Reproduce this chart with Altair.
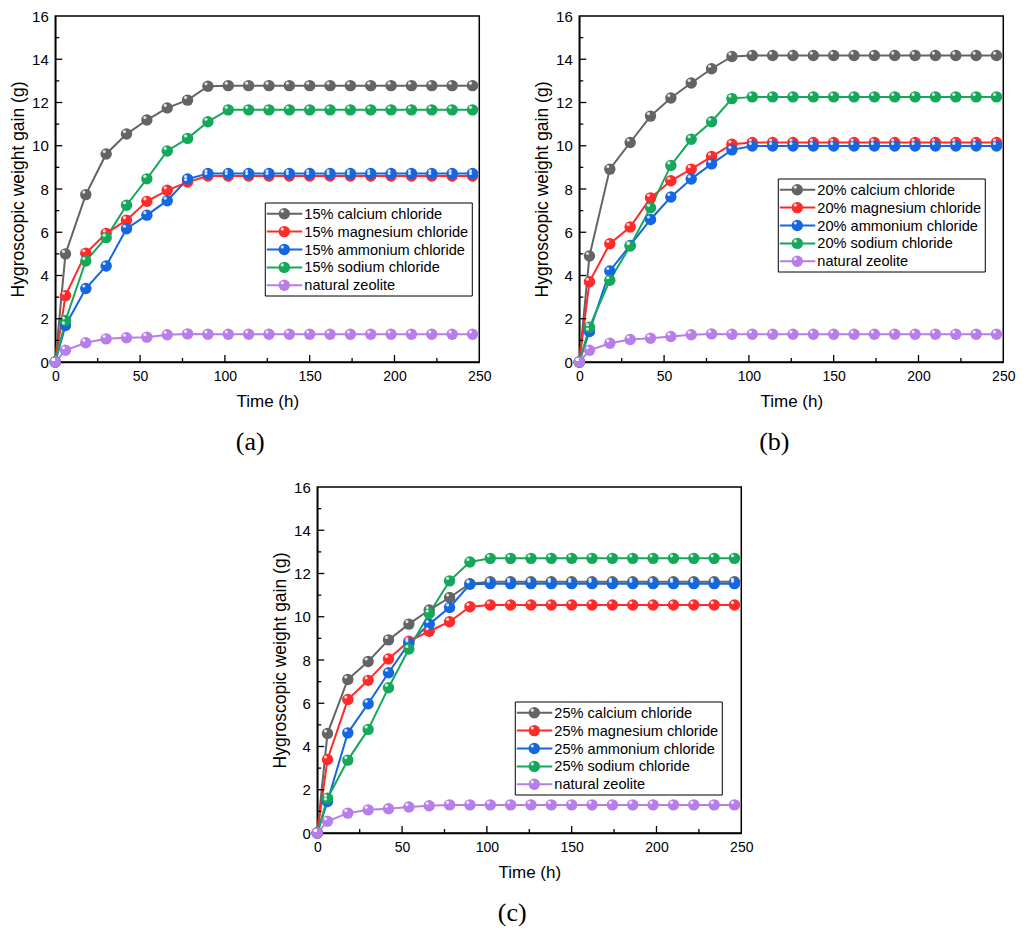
import altair as alt
import pandas as pd

TIMES = [0, 6, 18, 30, 42, 54, 66, 78, 90, 102, 114, 126, 138, 150, 162, 174, 186, 198, 210, 222, 234, 246]

# Panel (a) 15%
A_CA = [0, 5.00, 7.74, 9.62, 10.54, 11.19, 11.75, 12.11, 12.75, 12.78, 12.78, 12.78, 12.78, 12.78, 12.78, 12.78, 12.78, 12.78, 12.78, 12.78, 12.78, 12.78]
A_MG = [0, 3.07, 5.03, 5.95, 6.56, 7.43, 7.94, 8.32, 8.60, 8.60, 8.60, 8.60, 8.60, 8.60, 8.60, 8.60, 8.60, 8.60, 8.60, 8.60, 8.60, 8.60]
A_NH = [0, 1.69, 3.40, 4.44, 6.16, 6.79, 7.46, 8.46, 8.72, 8.72, 8.72, 8.72, 8.72, 8.72, 8.72, 8.72, 8.72, 8.72, 8.72, 8.72, 8.72, 8.72]
A_NA = [0, 1.92, 4.67, 5.75, 7.25, 8.47, 9.76, 10.34, 11.11, 11.66, 11.66, 11.66, 11.66, 11.66, 11.66, 11.66, 11.66, 11.66, 11.66, 11.66, 11.66, 11.66]
A_ZE = [0, 0.54, 0.89, 1.07, 1.12, 1.15, 1.26, 1.30, 1.28, 1.28, 1.28, 1.28, 1.28, 1.28, 1.28, 1.28, 1.28, 1.28, 1.28, 1.28, 1.28, 1.28]

# Panel (b) 20%
B_CA = [0, 4.90, 8.92, 10.15, 11.37, 12.21, 12.90, 13.56, 14.13, 14.17, 14.17, 14.17, 14.17, 14.17, 14.17, 14.17, 14.17, 14.17, 14.17, 14.17, 14.17, 14.17]
B_MG = [0, 3.71, 5.47, 6.24, 7.59, 8.38, 8.92, 9.50, 10.07, 10.15, 10.15, 10.15, 10.15, 10.15, 10.15, 10.15, 10.15, 10.15, 10.15, 10.15, 10.15, 10.15]
B_NH = [0, 1.41, 4.21, 5.39, 6.59, 7.63, 8.46, 9.16, 9.81, 9.99, 9.99, 9.99, 9.99, 9.99, 9.99, 9.99, 9.99, 9.99, 9.99, 9.99, 9.99, 9.99]
B_NA = [0, 1.61, 3.78, 5.36, 7.13, 9.09, 10.30, 11.11, 12.18, 12.26, 12.26, 12.26, 12.26, 12.26, 12.26, 12.26, 12.26, 12.26, 12.26, 12.26, 12.26, 12.26]
B_ZE = [0, 0.54, 0.87, 1.04, 1.10, 1.18, 1.26, 1.30, 1.28, 1.28, 1.28, 1.28, 1.28, 1.28, 1.28, 1.28, 1.28, 1.28, 1.28, 1.28, 1.28, 1.28]

# Panel (c) 25%
C_CA = [0, 4.60, 7.10, 7.93, 8.93, 9.66, 10.31, 10.89, 11.53, 11.62, 11.62, 11.62, 11.62, 11.62, 11.62, 11.62, 11.62, 11.62, 11.62, 11.62, 11.62, 11.62]
C_MG = [0, 3.40, 6.17, 7.06, 8.05, 8.87, 9.33, 9.77, 10.46, 10.54, 10.54, 10.54, 10.54, 10.54, 10.54, 10.54, 10.54, 10.54, 10.54, 10.54, 10.54, 10.54]
C_NH = [0, 1.46, 4.63, 5.98, 7.41, 8.77, 9.66, 10.43, 11.50, 11.53, 11.53, 11.53, 11.53, 11.53, 11.53, 11.53, 11.53, 11.53, 11.53, 11.53, 11.53, 11.53]
C_NA = [0, 1.61, 3.37, 4.79, 6.72, 8.51, 10.15, 11.66, 12.53, 12.70, 12.70, 12.70, 12.70, 12.70, 12.70, 12.70, 12.70, 12.70, 12.70, 12.70, 12.70, 12.70]
C_ZE = [0, 0.54, 0.92, 1.07, 1.12, 1.20, 1.26, 1.30, 1.30, 1.30, 1.30, 1.30, 1.30, 1.30, 1.30, 1.30, 1.30, 1.30, 1.30, 1.30, 1.30, 1.30]

LABELS_A = ["15% calcium chloride", "15% magnesium chloride", "15% ammonium chloride", "15% sodium chloride", "natural zeolite"]
LABELS_B = ["20% calcium chloride", "20% magnesium chloride", "20% ammonium chloride", "20% sodium chloride", "natural zeolite"]
LABELS_C = ["25% calcium chloride", "25% magnesium chloride", "25% ammonium chloride", "25% sodium chloride", "natural zeolite"]
COLORS = ["#646464", "#ff2a2a", "#1467e0", "#16a85a", "#b77de8"]

X_LABELS = [0, 50, 100, 150, 200, 250]
X_MAJOR = [50, 100, 150, 200]
X_MINOR = [25, 75, 125, 175, 225]
Y_LABELS = [0, 2, 4, 6, 8, 10, 12, 14, 16]
Y_MAJOR = [2, 4, 6, 8, 10, 12, 14]
Y_MINOR = [1, 3, 5, 7, 9, 11, 13, 15]

W, H = 424, 346
SANS = "Liberation Sans"
LEG_W, LEG_H, LEG_ROW, LEG_TOP = 207, 93, 17.9, 10.7


def panel(series, labels, caption, right_gap, ly):
    lx = W - right_gap - LEG_W
    rows = []
    for lab, vals in zip(labels, series):
        for t, v in zip(TIMES, vals):
            rows.append({"t": t, "v": v, "s": lab})
    df = pd.DataFrame(rows)
    xs = alt.Scale(domain=[0, 250], nice=False, zero=False)
    ys = alt.Scale(domain=[0, 16], nice=False)
    cs = alt.Scale(domain=labels, range=COLORS)
    xax = alt.Axis(values=X_LABELS, title="Time (h)", ticks=False, grid=False,
                   labelFontSize=14, titleFontSize=17, labelPadding=7, titlePadding=10,
                   labelFont=SANS, titleFont=SANS, titleFontWeight="normal",
                   labelColor="black", titleColor="black", domainColor="black",
                   domainWidth=1.5, labelFlush=False)
    yax = alt.Axis(values=Y_LABELS, title="Hygroscopic weight gain (g)", ticks=False,
                   grid=False, labelFontSize=15, titleFontSize=17.5, labelPadding=7,
                   titlePadding=4, labelFont=SANS, titleFont=SANS,
                   titleFontWeight="normal", labelColor="black", titleColor="black",
                   domainColor="black", domainWidth=1.5, labelFlush=False)
    x = alt.X("t:Q", scale=xs, axis=xax)
    y = alt.Y("v:Q", scale=ys, axis=yax)
    col = alt.Color("s:N", scale=cs, legend=None)
    base = alt.Chart(df)
    lines = base.mark_line(strokeWidth=2).encode(x=x, y=y, color=col, order="t:Q")
    pts = base.mark_point(filled=True, size=130, opacity=1).encode(x=x, y=y, color=col)
    hl = base.mark_point(filled=True, color="white", size=10, opacity=0.8, xOffset=-2, yOffset=-2.5).encode(
        x=x, y=y)
    xmaj = alt.Chart(pd.DataFrame({"tv": X_MAJOR})).mark_rule(color="black", strokeWidth=1.3).encode(
        x=alt.X("tv:Q", scale=xs, axis=xax), y=alt.value(H), y2=alt.value(H - 7))
    xmin = alt.Chart(pd.DataFrame({"tv": X_MINOR})).mark_rule(color="black", strokeWidth=1.3).encode(
        x=alt.X("tv:Q", scale=xs, axis=xax), y=alt.value(H), y2=alt.value(H - 4))
    ymaj = alt.Chart(pd.DataFrame({"tv": Y_MAJOR})).mark_rule(color="black", strokeWidth=1.3).encode(
        y=alt.Y("tv:Q", scale=ys, axis=yax), x=alt.value(0), x2=alt.value(7))
    ymin = alt.Chart(pd.DataFrame({"tv": Y_MINOR})).mark_rule(color="black", strokeWidth=1.3).encode(
        y=alt.Y("tv:Q", scale=ys, axis=yax), x=alt.value(0), x2=alt.value(4))
    main = alt.layer(lines, pts, hl, xmaj, xmin, ymaj, ymin)

    # legend drawn as marks
    ldf = pd.DataFrame({"s": labels, "i": list(range(len(labels)))})
    ly_scale = alt.Scale(type="point", domain=list(range(len(labels))), padding=0,
                         range=[ly + LEG_TOP, ly + LEG_TOP + LEG_ROW * (len(labels) - 1)])
    ly_enc = alt.Y("i:O", scale=ly_scale, axis=None)
    box = alt.Chart(pd.DataFrame({"k": [0]})).mark_rect(fill="white", stroke="black", strokeWidth=1).encode(
        x=alt.value(lx), x2=alt.value(lx + LEG_W), y=alt.value(ly), y2=alt.value(ly + LEG_H))
    lb = alt.Chart(ldf)
    lline = lb.mark_rule(strokeWidth=2).encode(x=alt.value(lx + 1.5), x2=alt.value(lx + 37), y=ly_enc, color=col)
    lpt = lb.mark_point(filled=True, size=130, opacity=1).encode(x=alt.value(lx + 19), y=ly_enc, color=col)
    lhl = lb.mark_point(filled=True, color="white", size=10, opacity=0.8, xOffset=-2, yOffset=-2.5).encode(
        x=alt.value(lx + 19), y=ly_enc)
    ltxt = lb.mark_text(align="left", baseline="middle", font=SANS, fontSize=14.6, color="black", dy=1).encode(
        x=alt.value(lx + 39), y=ly_enc, text="s:N")
    legend = alt.layer(box, lline, lpt, lhl, ltxt)

    return alt.layer(main, legend).resolve_scale(y="independent").properties(
        width=W, height=H,
        title=alt.TitleParams(text=caption, orient="bottom", font="Liberation Serif", fontSize=26,
                              fontWeight="normal", color="black", anchor="middle", frame="bounds", offset=20))


pa = panel([A_CA, A_MG, A_NH, A_NA, A_ZE], LABELS_A, "(a)", 7, 187)
pb = panel([B_CA, B_MG, B_NH, B_NA, B_ZE], LABELS_B, "(b)", 18, 163)
pc = panel([C_CA, C_MG, C_NH, C_NA, C_ZE], LABELS_C, "(c)", 19, 215)

top = alt.hconcat(pa, pb, spacing=40).resolve_scale(color="independent", x="independent", y="independent")
chart = alt.vconcat(top, pc, spacing=23, center=True).resolve_scale(
    color="independent", x="independent", y="independent"
).properties(padding={"left": 0, "top": 0, "right": 0, "bottom": 0}).configure_view(
    stroke="black", strokeWidth=1.5)

chart.save("out.html", embed_options={"renderer": "svg", "actions": False})
